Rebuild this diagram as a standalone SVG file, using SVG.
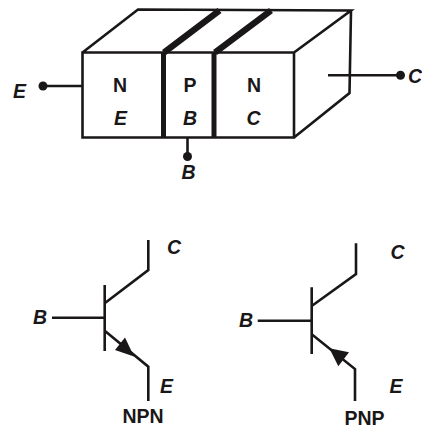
<svg xmlns="http://www.w3.org/2000/svg" width="422" height="427" viewBox="0 0 422 427">
<style>
.l{fill:none;stroke:#1a1718;stroke-width:2.600;stroke-linejoin:miter}
.t{fill:none;stroke:#1a1718;stroke-width:5}
.u{fill:none;stroke:#1a1718;stroke-width:6.500}
.d,.a{fill:#1a1718}
text{font-family:"Liberation Sans",Arial,sans-serif;font-weight:bold;font-size:19.500px;fill:#1a1718;text-anchor:middle}
.i{font-style:italic}
</style>
<rect width="422" height="427" fill="#fff"/>
<g id="junction-block">
<path class="l" d="M82.500 52.500H294V137.500H82.500ZM82.500 52.500L138 9.500L351 10.500L294 52.500M351 10.500L349.500 93L294 137.500"/>
<path class="t" d="M163.500 137V52.500M214 137V52.500"/>
<path class="u" d="M164 52.500L219.500 10.500M215 52.500L271 10.500"/>
</g>
<g id="region-n-emitter"><text x="120" y="91.500">N</text><text class="i" x="120.500" y="125">E</text></g>
<g id="region-p-base"><text x="190" y="91.500">P</text><text class="i" x="190" y="125">B</text></g>
<g id="region-n-collector"><text x="254" y="91.500">N</text><text class="i" x="253.500" y="125">C</text></g>
<g id="connectors">
<path class="l" d="M43 86H82M328 75.300H400M187.500 138V156"/>
<circle class="d" cx="43" cy="86" r="4.500"/><circle class="d" cx="400.500" cy="75.300" r="4.500"/><circle class="d" cx="187.500" cy="156.500" r="4.500"/>
</g>
<g id="terminal-e"><text class="i" x="19.500" y="97.500">E</text></g>
<g id="terminal-c"><text class="i" x="415" y="83">C</text></g>
<g id="terminal-b"><text class="i" x="188.500" y="179">B</text></g>
<g id="npn-symbol">
<path class="l" d="M148.300 240V270L105 303M104.700 285V351M52 317.700H104.700M105 331L148.300 366.700V401"/>
<polygon class="a" points="134,356.500 125,337.500 115,350"/>
<text class="i" x="174" y="254">C</text><text class="i" x="40" y="324">B</text><text class="i" x="166.500" y="393">E</text><text x="143" y="423">NPN</text>
</g>
<g id="pnp-symbol">
<path class="l" d="M356 243.300V274L311.700 306M311.700 287.300V354M257.700 320.700H311.700M311.700 334.300L355 369V401"/>
<polygon class="a" points="329.300,348.300 349,352.300 338.300,366.300"/>
<text class="i" x="397.500" y="259">C</text><text class="i" x="246" y="326.500">B</text><text class="i" x="396" y="393">E</text><text x="364.500" y="424.500">PNP</text>
</g>
</svg>
